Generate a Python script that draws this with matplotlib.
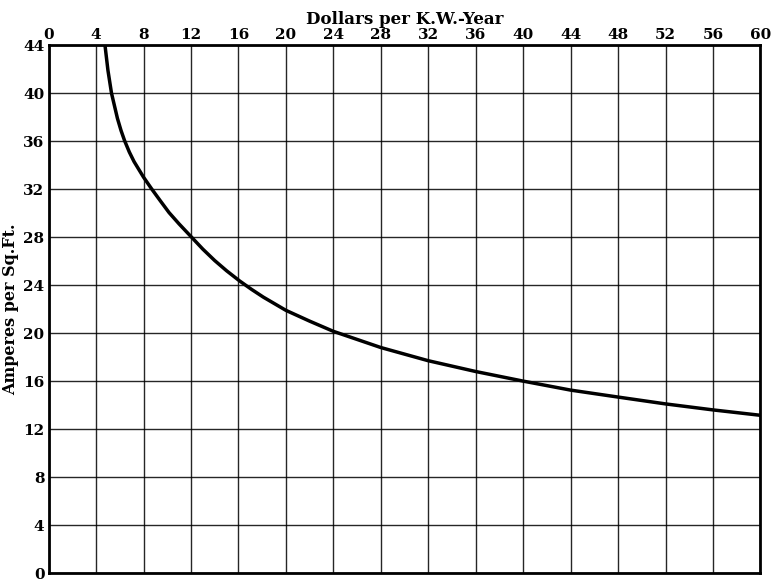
import matplotlib.pyplot as plt
import numpy as np

# cost of energy (dollars per K.W.-year) vs economical current density
dollars = [4.75, 5.0, 5.3, 5.8, 6.1, 6.4, 6.8, 7.2, 8.0, 8.7, 9.4, 10.15, 11, 12, 13, 14, 15,
           16.1, 17.1, 18.1, 20, 22, 24, 28, 32, 36, 40, 44, 48, 52, 56, 60]
amperes = [44, 41.9, 40, 37.9, 36.9, 36.05, 35.1, 34.3, 33.0, 32.0, 31.05, 30.05, 29.1, 28.05,
           27.0, 26.05, 25.2, 24.35, 23.65, 23.0, 21.9, 21.0, 20.15, 18.8, 17.7, 16.8, 16.0,
           15.25, 14.67, 14.1, 13.6, 13.15]

x_ticks = np.arange(0, 61, 4)
y_ticks = np.arange(0, 45, 4)

plt.rcParams['font.family'] = 'DejaVu Serif'
plt.rcParams['font.weight'] = 'bold'

fig = plt.figure(figsize=(7.72, 5.8), dpi=100)
ax = fig.add_axes([0.063, 0.012, 0.922, 0.910])

ax.plot(dollars, amperes, color='black', linewidth=2.5,
        solid_joinstyle='round', solid_capstyle='butt')

ax.set_xlim(0, 60)
ax.set_ylim(0, 44)
ax.set_xticks(x_ticks)
ax.set_yticks(y_ticks)
ax.xaxis.tick_top()
ax.xaxis.set_label_position('top')
ax.tick_params(length=0, labelsize=11, pad=2)
ax.tick_params(axis='y', pad=3)

ax.grid(True, color='black', linewidth=1.0, alpha=0.85)
for s in ax.spines.values():
    s.set_linewidth(2)

ax.set_xlabel('Dollars per K.W.-Year', fontsize=12, fontweight='bold', labelpad=3)
ax.set_ylabel('Amperes per Sq.Ft.', fontsize=11.5, fontweight='bold', labelpad=3)

plt.savefig('out.png', dpi=100)
